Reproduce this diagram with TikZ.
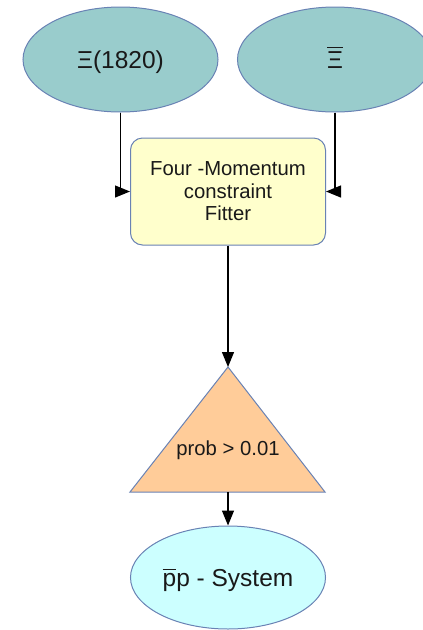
\documentclass[tikz,border=0pt]{standalone}
\usepackage{fontspec}
\setmainfont{Liberation Sans}
\usetikzlibrary{shapes.geometric,arrows.meta}
\definecolor{edgeblue}{RGB}{105,130,180}
\definecolor{tealfill}{RGB}{153,204,204}
\definecolor{boxfill}{RGB}{255,255,204}
\definecolor{trifill}{RGB}{255,204,153}
\definecolor{cyanfill}{RGB}{204,255,255}
\definecolor{ink}{RGB}{25,25,25}
\tikzset{
  particle/.style={ellipse, draw=edgeblue, line width=1pt, minimum width=195pt, minimum height=105pt, inner sep=0pt, text=ink, text height=17.5pt, text depth=0pt, font=\fontsize{24.5}{28}\selectfont},
  fitbox/.style={rectangle, rounded corners=12pt, draw=edgeblue, line width=1pt, fill=boxfill, minimum width=195pt, minimum height=107pt, align=center, text=ink, font=\fontsize{20.3}{22.5}\selectfont},
  cut/.style={draw=edgeblue, line width=1pt, fill=trifill},
  flow/.style={draw=black, line width=1.2pt, -{Triangle[length=15pt,width=12pt]}}
}
\newcommand{\barred}[1]{\leavevmode\hbox{\vbox{\hrule height 1.2pt\kern 3pt\hbox{#1}}}}
\begin{document}
\begin{tikzpicture}[x=1pt,y=-1pt]
  \useasboundingbox (0,0) rectangle (423,630);
  \clip (0,0) rectangle (423,630);
  % input particles
  \node[particle, fill=tealfill] (xi1) at (120.5,59.5) {Ξ(1820)};
  \node[particle, fill=tealfill] (xi2) at (335,59.5) {\barred{Ξ}};
  % kinematic fitter
  \node[fitbox] (fit) at (228,191.5) {Four -Momentum\\constraint\\Fitter};
  % probability cut
  \coordinate (tritop) at (228,367);
  \coordinate (trileft) at (130,492);
  \coordinate (triright) at (325,492);
  \coordinate (tribase) at (228,492);
  \draw[cut] (tritop) -- (triright) -- (trileft) -- cycle;
  \node[text=ink, font=\fontsize{20.3}{22}\selectfont] (prob) at (228,450) {prob > 0.01};
  % resulting system
  \node[particle, fill=cyanfill, minimum height=103pt] (pp) at (228,577.5) {\barred{p}p - System};
  % connectors
  \draw[flow] (xi1.south) |- (fit.west);
  \draw[flow] (xi2.south) |- (fit.east);
  \draw[flow] (fit.south) -- (tritop);
  \draw[flow] (tribase) -- (pp.north);
\end{tikzpicture}
\end{document}
